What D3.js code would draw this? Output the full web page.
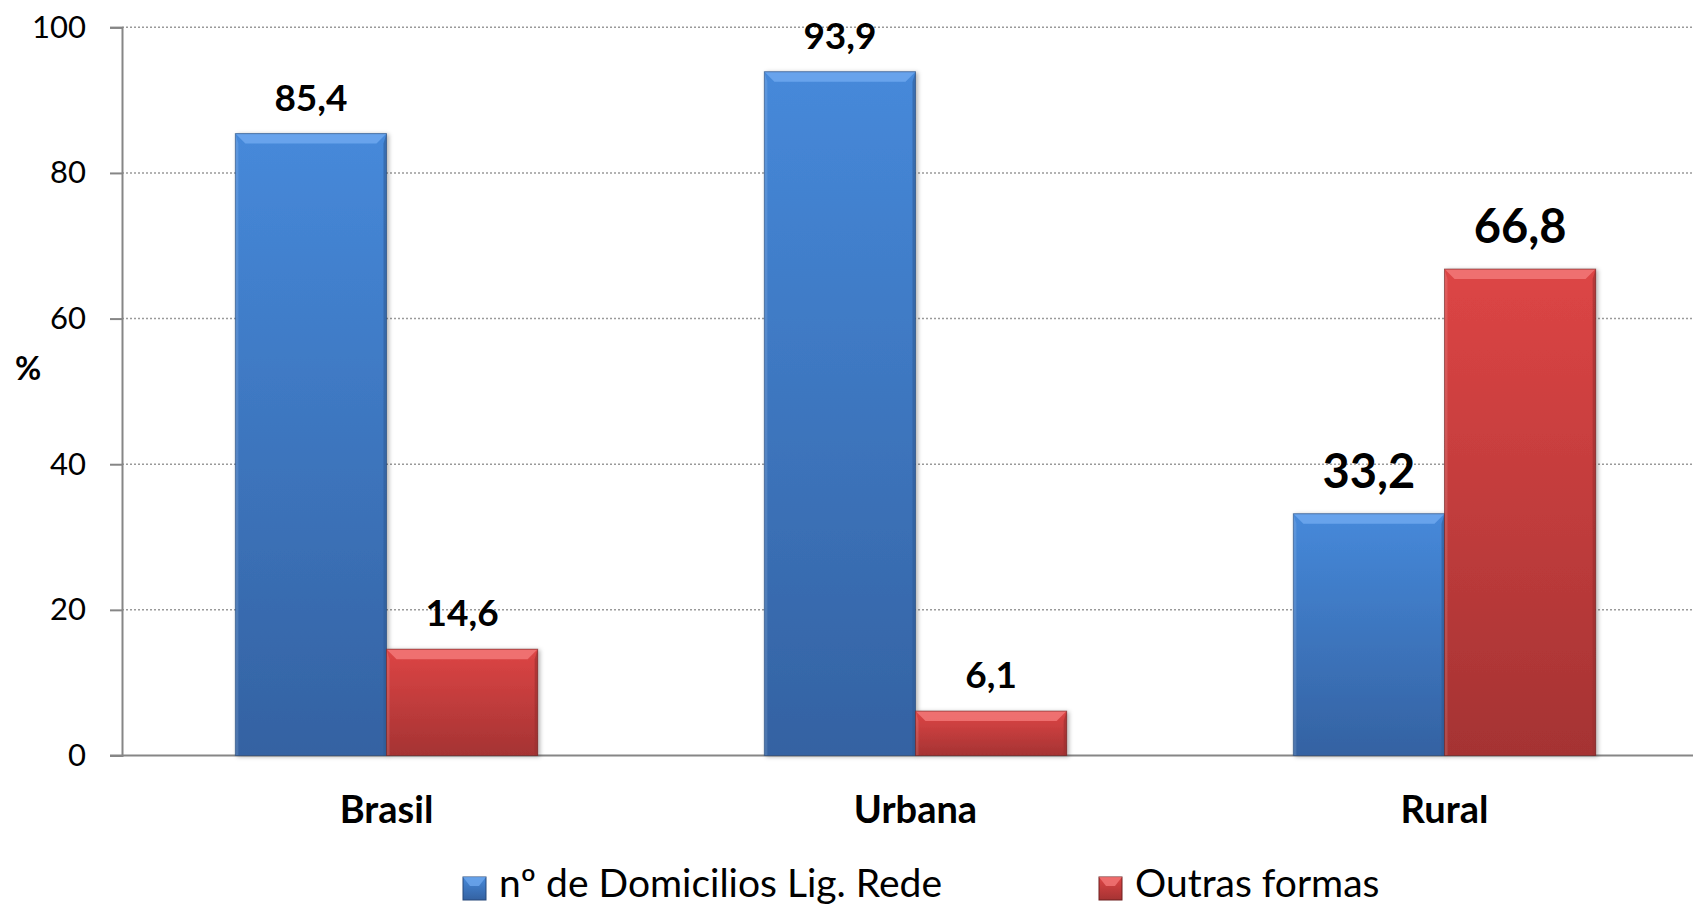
<!DOCTYPE html>
<html>
<head>
<meta charset="utf-8">
<script src="https://cdn.jsdelivr.net/npm/d3@7"></script>
<style>
  html, body { margin: 0; padding: 0; background: #fff; }
  svg { display: block; font-family: Lato, "Open Sans", sans-serif; }
</style>
</head>
<body>
<svg id="chart" width="1693" height="906"></svg>
<script>
const categories = ["Brasil", "Urbana", "Rural"];
const seriesNames = ["nº de Domicilios Lig. Rede", "Outras formas"];
const redeValues = [85.4, 93.9, 33.2];
const outrasValues = [14.6, 6.1, 66.8];
const yTicks = [0, 20, 40, 60, 80, 100];

const rows = categories.map((c, i) => ({ category: c, values: [
  { series: seriesNames[0], value: redeValues[i] },
  { series: seriesNames[1], value: outrasValues[i] }
]}));

const W = 1693, H = 906;
const plot = { left: 122, top: 27.3, bottom: 755.5 };
const svg = d3.select("#chart");

const x0 = d3.scaleBand().domain(categories).range([plot.left, plot.left + 3 * 529]).paddingInner(0).paddingOuter(0);
const x1 = d3.scaleBand().domain(seriesNames).range([0, x0.bandwidth()]).paddingInner(0).paddingOuter(0.75);
const y = d3.scaleLinear().domain([0, 100]).range([plot.bottom, plot.top]);

const palette = {
  [seriesNames[0]]: { top: "#4689da", bottom: "#3462a2", bevel: "#6ea8ee", side: "#2f5b96", edge: "#27497a" },
  [seriesNames[1]]: { top: "#dd4545", bottom: "#a53333", bevel: "#f27777", side: "#9a2e2e", edge: "#6e2020" }
};

const defs = svg.append("defs");
seriesNames.forEach((s, i) => {
  const g = defs.append("linearGradient").attr("id", "grad" + i).attr("x1", 0).attr("y1", 0).attr("x2", 0).attr("y2", 1);
  g.append("stop").attr("offset", "0%").attr("stop-color", palette[s].top);
  g.append("stop").attr("offset", "100%").attr("stop-color", palette[s].bottom);
});
const f = defs.append("filter").attr("id", "shadow").attr("x", "-10%").attr("y", "-10%").attr("width", "130%").attr("height", "130%");
f.append("feDropShadow").attr("dx", 2).attr("dy", 1).attr("stdDeviation", 2).attr("flood-color", "#000").attr("flood-opacity", 0.3);

// gridlines
svg.append("g").selectAll("line").data(yTicks.filter(t => t > 0)).join("line")
  .attr("x1", plot.left).attr("x2", W)
  .attr("y1", d => y(d)).attr("y2", d => y(d))
  .attr("stroke", "#9a9a9a").attr("stroke-width", 1.5).attr("stroke-dasharray", "2,2");

// y axis
const yAxis = d3.axisLeft(y).tickValues(yTicks).tickSize(12).tickPadding(24).tickFormat(d3.format("d"));
const yg = svg.append("g").attr("transform", `translate(${plot.left},0)`).call(yAxis);
yg.select(".domain").attr("stroke", "#868686").attr("stroke-width", 2);
yg.selectAll(".tick line").attr("stroke", "#868686").attr("stroke-width", 2);
yg.selectAll(".tick text").attr("font-family", "Lato, sans-serif").attr("font-size", 31).attr("fill", "#000");

// baseline
svg.append("line").attr("x1", plot.left - 12).attr("x2", W)
  .attr("y1", y(0)).attr("y2", y(0)).attr("stroke", "#868686").attr("stroke-width", 2);

// bars
const bevel = 10;
const groups = svg.append("g").selectAll("g").data(rows).join("g")
  .attr("transform", d => `translate(${x0(d.category)},0)`);

const bars = groups.selectAll("g.bar").data(d => d.values).join("g").attr("class", "bar").attr("filter", "url(#shadow)");
bars.append("rect")
  .attr("x", d => x1(d.series)).attr("width", x1.bandwidth())
  .attr("y", d => y(d.value)).attr("height", d => y(0) - y(d.value))
  .attr("fill", d => "url(#grad" + seriesNames.indexOf(d.series) + ")");
bars.append("polygon").attr("points", d => {
  const xa = x1(d.series), xb = xa + x1.bandwidth(), yt = y(d.value);
  return [[xa, yt], [xb, yt], [xb - bevel, yt + bevel], [xa + bevel, yt + bevel]].join(" ");
}).attr("fill", d => palette[d.series].bevel).attr("opacity", 0.85);
bars.append("polygon").attr("points", d => {
  const xb = x1(d.series) + x1.bandwidth(), yt = y(d.value), yb = y(0);
  return [[xb, yt], [xb, yb], [xb - 3, yb], [xb - 3, yt + bevel]].join(" ");
}).attr("fill", d => palette[d.series].side).attr("opacity", 0.6);
bars.append("polygon").attr("points", d => {
  const xa = x1(d.series), yt = y(d.value), yb = y(0);
  return [[xa, yt], [xa + 3, yt + bevel], [xa + 3, yb], [xa, yb]].join(" ");
}).attr("fill", "#ffffff").attr("opacity", 0.12);
bars.append("rect")
  .attr("x", d => x1(d.series)).attr("width", x1.bandwidth())
  .attr("y", d => y(d.value)).attr("height", d => y(0) - y(d.value))
  .attr("fill", "none").attr("stroke", d => palette[d.series].edge).attr("stroke-width", 1).attr("stroke-opacity", 0.6);

// value labels
const labelSize = { Brasil: 37, Urbana: 37, Rural: 47 };
const labelGap = { Brasil: 23, Urbana: 23, Rural: 26 };
groups.each(function(row) {
  d3.select(this).selectAll("text.val").data(row.values).join("text").attr("class", "val")
    .attr("x", d => x1(d.series) + x1.bandwidth() / 2)
    .attr("y", d => y(d.value) - labelGap[row.category])
    .attr("text-anchor", "middle")
    .attr("font-weight", "bold")
    .attr("font-size", labelSize[row.category])
    .attr("fill", "#000")
    .text(d => d3.format(".1f")(d.value).replace(".", ","));
});

// category labels
svg.append("g").selectAll("text").data(categories).join("text")
  .attr("x", d => x0(d) + x0.bandwidth() / 2)
  .attr("y", 823)
  .attr("text-anchor", "middle").attr("font-weight", "bold").attr("font-size", 38).attr("fill", "#000")
  .text(d => d);

// y title
svg.append("text").attr("x", 28).attr("y", 380).attr("text-anchor", "middle")
  .attr("font-weight", "bold").attr("font-size", 32).text("%");

// legend
const legendX = [463, 1099];
const lg = svg.append("g").selectAll("g").data(seriesNames).join("g")
  .attr("transform", (d, i) => `translate(${legendX[i]},0)`);
lg.append("rect").attr("x", 0).attr("y", 877).attr("width", 23).attr("height", 23)
  .attr("fill", (d, i) => "url(#grad" + i + ")").attr("stroke", d => palette[d].edge).attr("stroke-width", 1);
lg.append("polygon").attr("points", "0,877 23,877 16,886 7,886").attr("fill", d => palette[d].bevel).attr("opacity", 0.8);
lg.append("text").attr("x", 36).attr("y", 897).attr("font-size", 39).attr("fill", "#000").text(d => d);
</script>
</body>
</html>
